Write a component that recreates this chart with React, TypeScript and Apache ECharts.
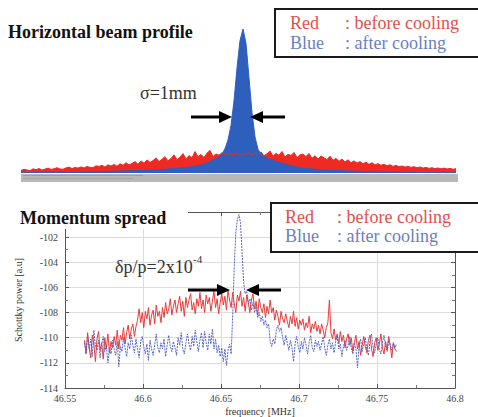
import React, { useEffect, useRef } from 'react';
import * as echarts from 'echarts';

// ---- Horizontal beam profile (arbitrary channel units, height in % of peak) ----
const PROFILE_RED = [
  1.8, 2.6, 2.1, 1.6, 2.9, 2.3, 3.1, 2.0, 2.7, 3.4,
  2.5, 2.9, 3.7, 2.8, 2.6, 3.5, 4.1, 3.1, 3.8, 3.4,
  4.2, 3.5, 4.5, 3.9, 3.7, 5.0, 4.6, 5.3, 4.1, 5.7,
  4.8, 5.9, 4.7, 6.4, 5.4, 7.1, 5.6, 6.6, 7.9, 6.0,
  8.4, 6.8, 9.1, 7.4, 8.6, 10.5, 7.9, 9.5, 11.3, 8.4,
  10.1, 12.6, 9.2, 11.0, 13.5, 9.8, 12.1, 10.6, 14.9, 11.3,
  12.9, 10.8, 13.8, 15.7, 11.5, 13.2, 12.4, 14.1, 12.8, 13.5,
  13.0, 12.6, 14.0, 12.2, 13.6, 12.9, 14.3, 12.5, 13.9, 13.1,
  14.6, 12.0, 13.3, 15.3, 11.6, 13.7, 12.3, 15.0, 11.1, 13.0,
  12.2, 14.3, 10.7, 12.6, 13.1, 11.4, 13.6, 10.2, 12.0, 9.6,
  11.8, 10.5, 9.3, 11.7, 8.8, 10.2, 8.1, 9.7, 7.6, 9.2,
  7.2, 8.4, 6.9, 7.9, 6.4, 7.5, 6.0, 7.1, 5.6, 6.5,
  5.3, 6.1, 5.0, 5.7, 4.6, 5.3, 4.4, 4.9, 4.1, 4.6,
  3.9, 4.4, 3.6, 4.2, 3.4, 3.9, 3.2, 3.7, 3.0, 3.5,
  2.9, 3.4, 2.8, 3.2, 2.6, 3.0,
];
const PROFILE_BLUE = [
  0.2, 0.2, 0.3, 0.3, 0.3, 0.3, 0.4, 0.4, 0.4, 0.4,
  0.5, 0.5, 0.5, 0.5, 0.6, 0.6, 0.6, 0.7, 0.7, 0.7,
  0.8, 0.8, 0.8, 0.9, 0.9, 1.0, 1.0, 1.0, 1.1, 1.1,
  1.2, 1.2, 1.3, 1.3, 1.4, 1.4, 1.5, 1.6, 1.6, 1.7,
  1.8, 1.9, 2.0, 2.1, 2.2, 2.3, 2.4, 2.5, 2.6, 2.8,
  2.9, 3.1, 3.3, 3.5, 3.7, 3.9, 4.1, 4.4, 4.7, 5.0,
  5.5, 6.2, 7.0, 7.9, 9.0, 10.0, 11.0, 13.0, 17.0, 23.0,
  33.0, 50.0, 73.0, 92.0, 100.0, 90.0, 66.0, 42.0, 25.0, 16.5,
  13.0, 11.5, 10.5, 9.5, 8.8, 8.0, 7.4, 6.8, 6.2, 5.6,
  5.0, 4.5, 4.1, 3.8, 3.5, 3.2, 3.0, 2.8, 2.6, 2.4,
  2.3, 2.2, 2.1, 2.0, 1.9, 1.8, 1.7, 1.6, 1.5, 1.4,
  1.3, 1.3, 1.2, 1.1, 1.1, 1.0, 1.0, 0.9, 0.9, 0.8,
  0.8, 0.7, 0.7, 0.7, 0.6, 0.6, 0.6, 0.5, 0.5, 0.5,
  0.4, 0.4, 0.4, 0.4, 0.3, 0.3, 0.3, 0.3, 0.3, 0.2,
  0.2, 0.2, 0.2, 0.2, 0.2, 0.2,
];

// ---- Momentum spread (Schottky spectrum) ----
const FREQ_START = 46.5625; // MHz, first sample
const FREQ_STEP = 0.001; // MHz between samples
const SCHOTTKY_RED = [
  -110.2, -111.3, -109.6, -110.8, -111.6, -109.8, -110.5, -111.9, -110.1, -109.5,
  -111.0, -110.4, -111.7, -110.0, -110.9, -109.7, -111.2, -110.3, -110.8, -109.9,
  -110.6, -109.4, -110.9, -109.8, -110.2, -109.2, -110.5, -109.6, -109.0, -110.1,
  -109.3, -108.9, -109.9, -109.1, -108.6, -107.7, -108.8, -108.0, -109.2, -107.9,
  -108.5, -107.6, -109.0, -108.2, -107.8, -108.9, -107.4, -108.3, -107.9, -108.8,
  -107.6, -108.4, -107.2, -108.1, -107.7, -106.9, -108.2, -107.5, -107.0, -108.0,
  -107.3, -106.7, -107.9, -107.1, -108.3, -106.8, -107.6, -107.0, -106.5, -107.8,
  -107.2, -108.1, -106.9, -107.5, -106.4, -107.7, -107.0, -108.0, -106.6, -107.3,
  -106.8, -107.9, -107.1, -106.3, -107.6, -106.9, -108.1, -107.2, -106.5, -107.4,
  -106.7, -107.8, -106.2, -107.0, -107.6, -106.4, -107.3, -108.0, -106.6, -107.1,
  -106.3, -107.5, -106.8, -107.9, -106.6, -107.2, -108.0, -107.0, -106.5, -107.7,
  -107.1, -108.2, -106.9, -107.6, -108.0, -107.3, -108.4, -107.5, -108.1, -107.0,
  -108.0, -107.6, -108.6, -107.8, -108.3, -109.0, -107.9, -108.5, -108.8, -108.1,
  -108.7, -109.2, -108.3, -108.9, -107.9, -109.1, -108.4, -109.3, -108.6, -109.0,
  -108.5, -109.4, -108.8, -109.2, -108.3, -109.6, -108.9, -109.3, -108.7, -109.5,
  -109.0, -109.7, -108.9, -109.4, -110.0, -109.2, -108.8, -107.0, -109.6, -110.1,
  -109.3, -110.2, -109.7, -110.5, -109.5, -110.3, -109.8, -110.8, -110.1, -109.7,
  -110.6, -110.0, -111.1, -110.4, -109.8, -110.9, -110.3, -111.4, -110.6, -109.9,
  -110.7, -111.2, -110.2, -109.8, -110.9, -111.5, -110.4, -110.0, -111.0, -110.5,
  -109.7, -110.8, -111.3, -110.3, -111.0, -109.9, -110.6, -111.6, -110.4, -110.9,
  -111.1,
];
const SCHOTTKY_BLUE = [
  -110.4, -111.2, -109.8, -110.9, -110.1, -111.5, -109.4, -110.7, -111.0, -110.2,
  -111.6, -110.5, -109.9, -111.1, -110.6, -112.0, -110.8, -111.3, -110.2, -110.9,
  -111.4, -110.3, -112.3, -110.7, -111.1, -110.0, -110.8, -111.5, -110.4, -110.9,
  -109.8, -110.6, -111.2, -110.1, -110.9, -111.6, -110.3, -109.9, -110.7, -111.3,
  -110.5, -111.8, -110.2, -110.9, -111.4, -110.6, -109.7, -110.8, -111.2, -110.4,
  -110.9, -110.1, -111.5, -110.6, -109.8, -110.7, -111.1, -110.3, -110.8, -111.4,
  -110.0, -110.6, -109.6, -110.9, -111.3, -110.4, -109.7, -110.5, -111.0, -109.9,
  -110.7, -109.4, -110.3, -111.1, -110.2, -109.6, -110.8, -109.5, -110.4, -111.0,
  -109.7, -110.5, -109.3, -110.9, -110.1, -111.2, -110.6, -111.5, -110.8, -111.9,
  -110.9, -112.2, -111.0, -110.5, -111.3, -108.2, -104.3, -101.6, -100.6, -100.2,
  -100.9, -103.2, -105.6, -106.5, -106.3, -107.3, -106.9, -107.8, -107.2, -108.0,
  -107.5, -108.4, -108.0, -108.7, -108.3, -109.0, -108.6, -109.2, -108.9, -110.3,
  -110.7, -110.1, -110.5, -109.4, -109.0, -109.5, -109.2, -110.0, -110.6, -109.8,
  -110.4, -111.0, -110.2, -110.8, -111.9, -110.5, -109.9, -110.7, -111.2, -110.3,
  -110.9, -110.0, -110.6, -111.3, -110.4, -109.8, -110.8, -111.1, -110.2, -110.7,
  -110.3, -111.0, -110.5, -109.9, -110.8, -111.4, -110.6, -110.1, -110.9, -110.4,
  -111.2, -110.3, -109.8, -110.9, -110.5, -111.5, -110.7, -110.2, -111.0, -110.6,
  -109.9, -110.8, -111.3, -110.4, -110.9, -112.4, -110.6, -110.1, -111.1, -110.5,
  -110.0, -110.9, -111.4, -110.3, -109.7, -110.8, -111.2, -110.5, -110.0, -110.9,
  -111.3, -110.4, -109.8, -110.7, -111.1, -110.2, -110.6, -111.0, -110.4, -110.8,
  -110.5,
];

const TITLE_TOP = 'Horizontal beam profile';
const TITLE_BOTTOM = 'Momentum spread';
const X_NAME = 'frequency [MHz]';
const Y_NAME = 'Schottky power [a.u]';

const RED = '#ee2a22';
const BLUE = '#2f5fbd';
const SERIF = 'Liberation Serif';

export default function App() {
  const ref = useRef<HTMLDivElement>(null);

  useEffect(() => {
    if (!ref.current) return;
    const chart = echarts.init(ref.current, undefined, { renderer: 'svg' });
    const channels = PROFILE_RED.map((_, i) => String(i));
    const toPairs = (arr: number[]) => arr.map((v, i) => [FREQ_START + i * FREQ_STEP, v]);

    const arrowStyle = { stroke: '#000', lineWidth: 3 };
    const headStyle = { fill: '#000' };

    // y is the text's top edge
    const txt = (x: number, y: number, text: string, fill: string, fontSize: number) => ({
      type: 'text', x, y, z: 101,
      style: { text, fontFamily: SERIF, fontSize, fill },
    });

    const legendBox = (x: number, y: number, w: number, h: number, r1: number, r2: number, tx: number, cx: number) => [
      { type: 'rect', z: 100, shape: { x, y, width: w, height: h }, style: { fill: '#fff', stroke: '#1a1a1a', lineWidth: 2 } },
      txt(tx, r1, 'Red', '#e3504c', 18),
      txt(cx, r1, ': before cooling', '#e3504c', 18),
      txt(tx, r2, 'Blue', '#6a80c4', 18),
      txt(cx, r2, ': after cooling', '#6a80c4', 18),
    ];

    const axisCommon = {
      axisLine: { show: true, lineStyle: { color: '#555', width: 1 } },
      axisTick: { show: true, inside: true, length: 4, lineStyle: { color: '#555' } },
      minorTick: { show: true, splitNumber: 2, length: 3, lineStyle: { color: '#777' } },
    };

    const titleStyle = { fontFamily: SERIF, fontSize: 18, fontWeight: 'bold', color: '#111' };

    chart.setOption({
      animation: false,
      backgroundColor: '#fff',
      title: [
        { text: TITLE_TOP, left: 8, top: 23, padding: 0, z: 110, textStyle: titleStyle },
        { text: TITLE_BOTTOM, left: 20, top: 209, padding: 0, z: 110, textStyle: titleStyle },
      ],
      grid: [
        { left: 21, top: 29, width: 435, height: 144 },
        { left: 65, top: 212, width: 390, height: 177 },
      ],
      xAxis: [
        { gridIndex: 0, type: 'category', data: channels, boundaryGap: false, show: false },
        {
          gridIndex: 1, type: 'value', min: 46.55, max: 46.8, interval: 0.05,
          ...axisCommon,
          splitLine: { show: true, lineStyle: { color: '#dcdcdc' } },
          axisLabel: {
            formatter: (v: number) => String(Number(v.toFixed(2))),
            fontFamily: SERIF, fontSize: 10, color: '#444', margin: 5,
          },
          name: X_NAME, nameLocation: 'middle', nameGap: 18,
          nameTextStyle: { fontFamily: SERIF, fontSize: 10, color: '#333' },
        },
        {
          gridIndex: 1, type: 'value', position: 'top', min: 46.55, max: 46.8, interval: 0.05,
          ...axisCommon, axisLabel: { show: false }, splitLine: { show: false },
        },
      ],
      yAxis: [
        { gridIndex: 0, type: 'value', min: 0, max: 100, show: false },
        {
          gridIndex: 1, type: 'value', min: -114, max: -100, interval: 2,
          ...axisCommon,
          splitLine: { show: true, lineStyle: { color: '#dcdcdc' } },
          axisLabel: {
            formatter: (v: number) => (v === -100 ? '' : String(v)),
            fontFamily: SERIF, fontSize: 10, color: '#444', margin: 7,
          },
          name: Y_NAME, nameLocation: 'middle', nameGap: 42, nameRotate: 90,
          nameTextStyle: { fontFamily: SERIF, fontSize: 10, color: '#333' },
        },
        {
          gridIndex: 1, type: 'value', position: 'right', min: -114, max: -100, interval: 2,
          ...axisCommon, axisLabel: { show: false }, splitLine: { show: false },
        },
      ],
      series: [
        {
          type: 'line', xAxisIndex: 0, yAxisIndex: 0, data: PROFILE_RED, symbol: 'none',
          lineStyle: { color: RED, width: 1 }, areaStyle: { color: RED, opacity: 1 },
        },
        {
          type: 'line', xAxisIndex: 0, yAxisIndex: 0, data: PROFILE_BLUE, symbol: 'none',
          lineStyle: { color: BLUE, width: 1 }, areaStyle: { color: BLUE, opacity: 1 },
        },
        {
          type: 'line', xAxisIndex: 1, yAxisIndex: 1, data: toPairs(SCHOTTKY_RED), symbol: 'none',
          lineStyle: { color: '#ea3b3b', width: 1 },
        },
        {
          type: 'line', xAxisIndex: 1, yAxisIndex: 1, data: toPairs(SCHOTTKY_BLUE), symbol: 'none',
          lineStyle: { color: '#5565c4', width: 1, type: [2, 1] },
        },
      ],
      graphic: [
        // status bar under the profile
        { type: 'rect', z: 100, shape: { x: 21, y: 174, width: 437, height: 8 }, style: { fill: '#b8b8b8' } },
        { type: 'rect', z: 101, shape: { x: 23, y: 175, width: 120, height: 1 }, style: { fill: '#a0a0a0' } },
        { type: 'rect', z: 101, shape: { x: 23, y: 178, width: 110, height: 1 }, style: { fill: '#a4a4a4' } },
        // white backing behind the lower title
        { type: 'rect', z: 100, shape: { x: 0, y: 200, width: 188, height: 29 }, style: { fill: '#fff' } },
        // legends
        ...legendBox(275, 9, 210, 48, 14, 34, 290, 345),
        ...legendBox(271, 203, 214, 49, 208, 227, 285, 337),
        // annotations top
        txt(140, 84, 'σ=1mm', '#333', 18),
        { type: 'line', z: 101, shape: { x1: 191, y1: 117, x2: 222, y2: 117 }, style: arrowStyle },
        { type: 'polygon', z: 101, shape: { points: [[219, 111], [232, 117], [219, 123]] }, style: headStyle },
        { type: 'polygon', z: 101, shape: { points: [[250, 117], [263, 111], [263, 123]] }, style: headStyle },
        { type: 'line', z: 101, shape: { x1: 260, y1: 117, x2: 285, y2: 117 }, style: arrowStyle },
        // annotations bottom
        txt(115, 258, 'δp/p=2x10', '#333', 18),
        txt(193, 253, '-4', '#333', 11),
        { type: 'line', z: 101, shape: { x1: 188, y1: 290, x2: 220, y2: 290 }, style: arrowStyle },
        { type: 'polygon', z: 101, shape: { points: [[217, 284], [230, 290], [217, 296]] }, style: headStyle },
        { type: 'polygon', z: 101, shape: { points: [[246, 290], [259, 284], [259, 296]] }, style: headStyle },
        { type: 'line', z: 101, shape: { x1: 256, y1: 290, x2: 281, y2: 290 }, style: arrowStyle },
      ],
    });
    return () => chart.dispose();
  }, []);

  return (
    <div
      ref={ref}
      style={{ position: 'fixed', left: 0, top: 0, width: 478, height: 417, background: '#fff' }}
    />
  );
}
